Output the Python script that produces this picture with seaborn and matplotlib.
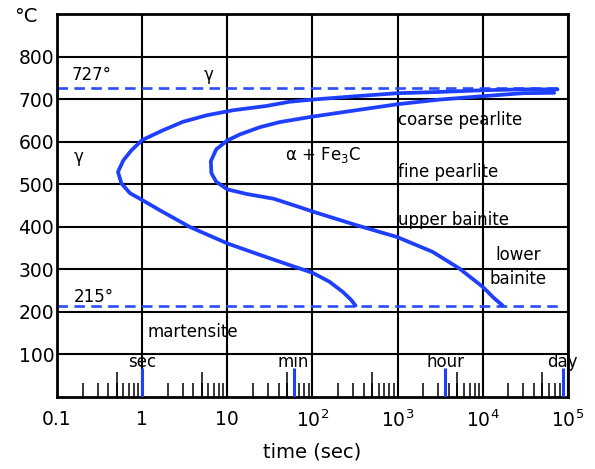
import pandas as pd
import matplotlib.pyplot as plt
import seaborn as sns

# TTT curves (time in s, temperature in degC)
start_t = [75300, 29300, 10000, 3100, 986, 326, 100, 54, 28.7, 11.7, 5.7, 3.03, 1.76, 1.0, 0.75, 0.60,
           0.52, 0.57, 0.72, 1.0, 1.61, 3.6, 10, 21.9, 54, 100, 158, 227, 285, 320]
start_T = [723, 723, 721, 717, 714, 707, 699, 694, 684, 674, 662, 647, 627, 604, 580, 556,
           529, 502, 479, 463, 439, 400, 361, 337, 310, 292, 271, 247, 228, 215]
finish_t = [68900, 29300, 10000, 3100, 986, 326, 100, 71, 41, 24, 14, 10, 7.4, 6.4, 6.5, 7.4,
            10, 17, 35, 71, 100, 326, 986, 2580, 5310, 9960, 13600, 17100]
finish_T = [715, 714, 707, 699, 688, 674, 659, 654, 646, 634, 617, 603, 582, 554, 526, 506,
            488, 477, 466, 446, 436, 404, 376, 341, 302, 259, 232, 215]

line_t = [0.1, 78000]
eutectoid_T = 727
ms_T = 215

marker_t = [1, 60, 3600, 86400]
marker_names = ["sec", "min", "hour", "day"]
minor_t = [m * 10.0 ** k for k in range(-1, 5) for m in range(2, 10)]
five_t = [5 * 10.0 ** k for k in range(-1, 5)]

decades = [0.1, 1, 10, 1e2, 1e3, 1e4, 1e5]
decade_labels = ["0.1", "1", "10", "$10^2$", "$10^3$", "$10^4$", "$10^5$"]
temp_ticks = [100, 200, 300, 400, 500, 600, 700, 800]

blue = "#1f3fff"
dash_blue = "#2a4dff"

sns.set_style("white")
plt.rcParams["font.family"] = ["DejaVu Sans"]
plt.rcParams["mathtext.fontset"] = "dejavusans"
plt.rcParams["text.color"] = "black"

fig, ax = plt.subplots(figsize=(5.95, 4.69))
fig.subplots_adjust(left=0.0958, right=0.9546, bottom=0.1535, top=0.970)

ax.set_xscale("log")
ax.set_xlim(0.1, 1e5)
ax.set_ylim(0, 900)
ax.set_xticks(decades)
ax.set_xticklabels(decade_labels)
ax.set_xticks(minor_t, minor=True)
ax.set_xticklabels([], minor=True)
ax.set_yticks(temp_ticks)
ax.tick_params(which="major", length=0, labelsize=13.5, colors="black")
ax.tick_params(axis="x", which="major", pad=9)
ax.tick_params(axis="y", which="major", pad=2)
ax.tick_params(axis="x", which="minor", direction="in", length=10, width=1.1, color="black", bottom=True)
ax.grid(True, which="major", color="black", lw=1.5)
for s in ax.spines.values():
    s.set_color("black")
    s.set_linewidth(2)

# taller ticks at 5 and the blue time markers
ax.vlines(five_t, 0, 25 / 383, transform=ax.get_xaxis_transform(), color="black", lw=1.1)
ax.vlines(marker_t, 0, 29 / 383, transform=ax.get_xaxis_transform(), color=blue, lw=2.2, zorder=4)
for t, name in zip(marker_t, marker_names):
    ax.text(t, 82, name, ha="center", va="center", fontsize=12, clip_on=False)

# dashed isotherms
sns.lineplot(x=line_t, y=[eutectoid_T, eutectoid_T], ax=ax, color=dash_blue, lw=1.9, linestyle=(0, (4, 2.4)))
sns.lineplot(x=line_t, y=[ms_T, ms_T], ax=ax, color=dash_blue, lw=1.9, linestyle=(0, (4, 2.4)))

curves = pd.concat([
    pd.DataFrame({"t": start_t, "T": start_T, "curve": "start"}),
    pd.DataFrame({"t": finish_t, "T": finish_T, "curve": "finish"}),
])
sns.lineplot(data=curves, x="t", y="T", units="curve", estimator=None, sort=False,
             ax=ax, color=blue, lw=2.7)
for ln in ax.lines[-2:]:
    ln.set_solid_joinstyle("round")
    ln.set_solid_capstyle("round")

ax.text(0.15, 757, "727°", fontsize=12, va="center")
ax.text(6, 757, "γ", fontsize=12, ha="center", va="center")
ax.text(0.18, 564, "γ", fontsize=12, ha="center", va="center")
ax.text(48, 569, "α + Fe$_3$C", fontsize=12, va="center")
ax.text(1000, 651, "coarse pearlite", fontsize=12, va="center")
ax.text(1000, 529, "fine pearlite", fontsize=12, va="center")
ax.text(1000, 416, "upper bainite", fontsize=12, va="center")
ax.text(26000, 334, "lower", fontsize=12, ha="center", va="center")
ax.text(26000, 277, "bainite", fontsize=12, ha="center", va="center")
ax.text(0.158, 235, "215°", fontsize=12, va="center")
ax.text(1.15, 153, "martensite", fontsize=12, va="center")

ax.set_xlabel("time (sec)", fontsize=14, labelpad=8, color="black")
ax.set_ylabel("")
fig.text(14 / 595, 1 - 17 / 469, "°C", fontsize=14, va="center")

fig.savefig("out.png", dpi=100)
